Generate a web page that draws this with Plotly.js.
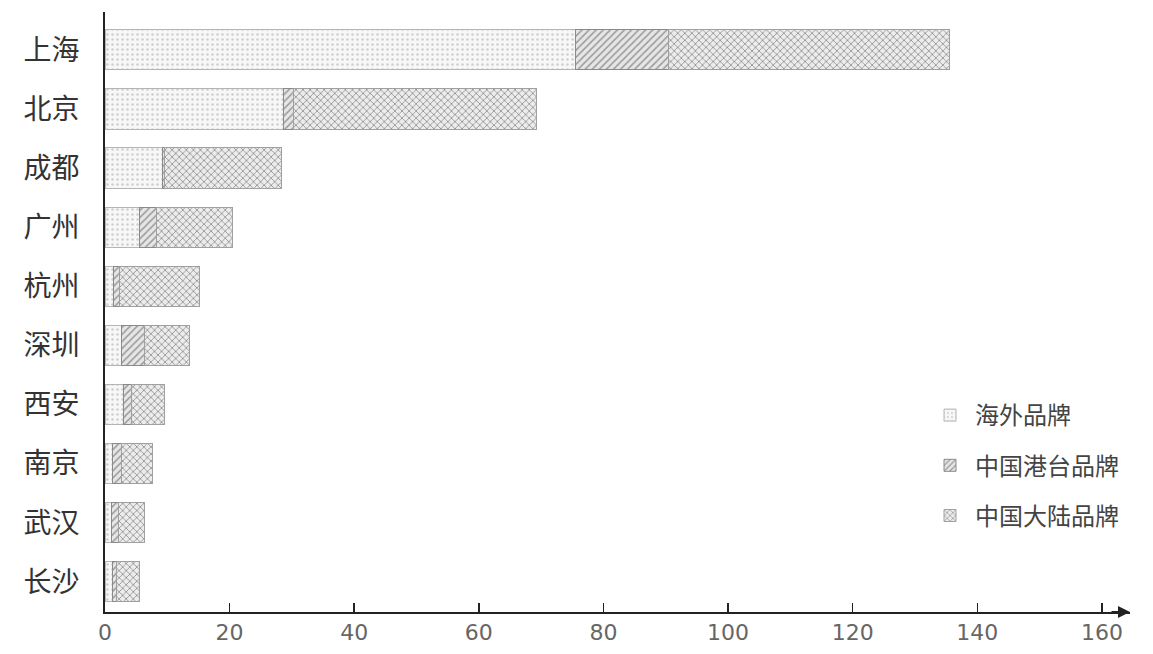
<!DOCTYPE html>
<html>
<head>
<meta charset="utf-8">
<script src="https://cdn.plot.ly/plotly-3.0.1.min.js"></script>
<style>html,body{margin:0;padding:0;background:#fff;}#chart{width:1153px;height:654px;}</style>
</head>
<body>
<div id="chart"></div>
<script>
const cities = ["上海","北京","成都","广州","杭州","深圳","西安","南京","武汉","长沙"];
const overseas = [75.5, 28.7, 9.3, 5.6, 1.3, 2.6, 2.9, 1.2, 1.0, 1.2];
const hkTaiwan = [15.0, 1.5, 0.3, 2.7, 1.1, 3.8, 1.3, 1.5, 1.2, 0.6];
const mainland = [45.0, 39.1, 18.8, 12.2, 12.8, 7.2, 5.3, 5.0, 4.2, 3.8];
const seriesNames = ["海外品牌","中国港台品牌","中国大陆品牌"];
const xTicks = [0,20,40,60,80,100,120,140,160];

const traces = [
  {name: seriesNames[0], legendgroup: "a", x: overseas, y: cities, type: "bar", orientation: "h",
   marker: {color: "#f5f5f5", line: {color: "#b5b5b5", width: 1},
            pattern: {shape: ".", fgcolor: "#cfcfcf", bgcolor: "#f7f7f7", size: 5, solidity: 0.2}}},
  {name: seriesNames[1], legendgroup: "b", x: hkTaiwan, y: cities, type: "bar", orientation: "h",
   marker: {color: "#e2e2e2", line: {color: "#8a8a8a", width: 1},
            pattern: {shape: "/", fgcolor: "#9a9a9a", bgcolor: "#e6e6e6", size: 5, solidity: 0.3}}},
  {name: seriesNames[2], legendgroup: "c", x: mainland, y: cities, type: "bar", orientation: "h",
   marker: {color: "#dedede", line: {color: "#a0a0a0", width: 1},
            pattern: {shape: "x", fgcolor: "#8f8f8f", bgcolor: "#ececec", size: 5, solidity: 0.3}}}
];

const layout = {
  width: 1153, height: 654,
  margin: {l: 105, r: 23, t: 12, b: 42},
  paper_bgcolor: "#fff", plot_bgcolor: "#fff",
  barmode: "stack", bargap: 0.32,
  showlegend: true,
  legend: {x: 0.80, y: 0.365, xanchor: "left", yanchor: "top", traceorder: "grouped",
           font: {family: "Noto Sans CJK SC", size: 24, color: "#444"},
           itemwidth: 40, tracegroupgap: 16, bgcolor: "rgba(0,0,0,0)"},
  xaxis: {range: [0, 164.5], tickvals: xTicks, ticktext: xTicks.map(String),
          ticks: "inside", ticklen: 9, tickcolor: "#222", tickwidth: 1.5,
          showgrid: false, zeroline: false, showline: true, linecolor: "#222", linewidth: 2,
          tickfont: {family: "DejaVu Sans", size: 22, color: "#666"}, fixedrange: true},
  yaxis: {type: "category", categoryorder: "array", categoryarray: cities,
          range: [9.51, -0.64], showgrid: false, zeroline: false,
          showline: true, linecolor: "#222", linewidth: 2, ticks: "",
          ticklabelstandoff: 18,
          tickfont: {family: "Noto Sans CJK SC", size: 28, color: "#333"}},
  annotations: [
    {x: 1, y: 0, xref: "paper", yref: "paper", ax: -20, ay: 0, axref: "pixel",
     showarrow: true, arrowhead: 2, arrowsize: 1.2, arrowwidth: 2, arrowcolor: "#222", text: ""}
  ]
};

Plotly.newPlot("chart", traces, layout, {displayModeBar: false, staticPlot: true});
</script>
</body>
</html>
